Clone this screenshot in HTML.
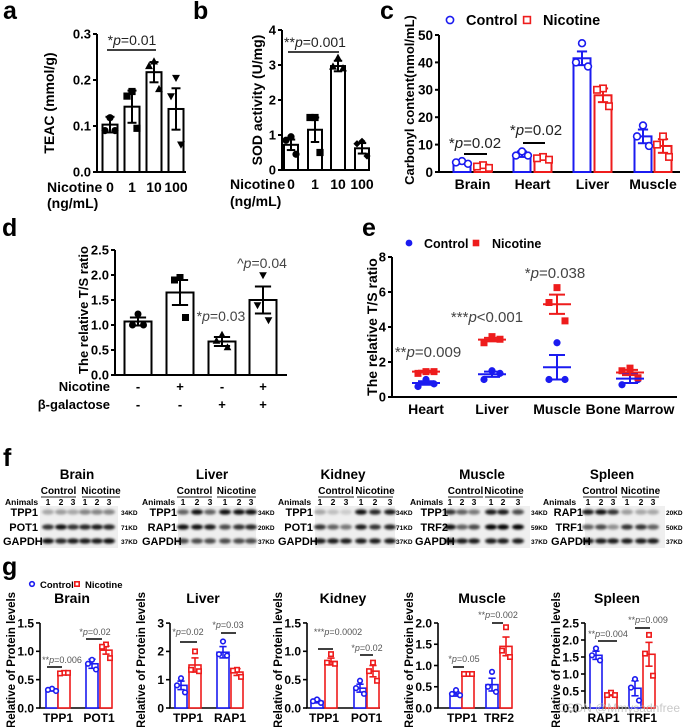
<!DOCTYPE html>
<html><head><meta charset="utf-8">
<style>
html,body{margin:0;padding:0;background:#fff;}
svg{display:block;font-family:"Liberation Sans",Arial,sans-serif;}
text{font-family:"Liberation Sans",Arial,sans-serif;}
</style></head>
<body>
<svg id="fig" width="685" height="727" viewBox="0 0 685 727">
<defs><filter id="blur" x="-50%" y="-100%" width="200%" height="300%"><feGaussianBlur stdDeviation="1.2"/></filter></defs>
</svg>
<script>
// ---------- data ----------
// panel a
const aCats=['0','1','10','100'];
const aMeans=[0.103,0.142,0.217,0.137];
const aSems=[0.017,0.035,0.022,0.045];
const aPts=[[0.118,0.09,0.09],[0.175,0.165,0.095],[0.24,0.23,0.18],[0.205,0.165,0.06]];
const aTicks=[0,0.1,0.2,0.3];
const aTickLabels=['0.0','0.1','0.2','0.3'];
// panel b
const bCats=['0','1','10','100'];
const bMeans=[0.72,1.15,2.97,0.62];
const bSems=[0.15,0.35,0.15,0.15];
const bPts=[[0.95,0.85,0.45],[1.5,1.5,0.5],[3.2,2.95,2.9],[0.82,0.75,0.4]];
const bTicks=[0,1,2,3,4];
const bTickLabels=['0','1','2','3','4'];
// panel c
const cCats=['Brain','Heart','Liver','Muscle'];
const cCtrlMeans=[3.5,6.5,41.5,13];
const cCtrlSems=[0.5,1,2.5,2.5];
const cNicMeans=[2.2,5,28,9.5];
const cNicSems=[0.5,0.5,2.5,2.5];
const cCtrlPts=[[4,3.5,3],[7.5,6,6],[47,40,38.5],[17,13,9.5]];
const cNicPts=[[2.5,2,1.5],[5.5,5,4.5],[30.5,30,24],[13,10,5.5]];
const cTicks=[0,10,20,30,40,50];
// panel d
const dNic=['-','+','-','+'];
const dGal=['-','-','+','+'];
const dMeans=[1.07,1.65,0.67,1.5];
const dSems=[0.08,0.25,0.09,0.27];
const dPts=[[1.22,1.0,1.0],[1.95,1.9,1.15],[0.8,0.68,0.55],[2.0,1.4,1.1]];
const dTicks=[0,0.5,1,1.5,2,2.5];
const dTickLabels=['0.0','0.5','1.0','1.5','2.0','2.5'];
// panel e
const eCats=['Heart','Liver','Muscle','Bone Marrow'];
const eCtrlMeans=[0.8,1.3,1.7,1.05];
const eCtrlSems=[0.1,0.15,0.7,0.25];
const eNicMeans=[1.45,3.28,5.3,1.4];
const eNicSems=[0.05,0.1,0.55,0.15];
const eCtrlPts=[[1.0,0.6,0.75],[1.5,1.0,1.35],[3.1,1.0,1.0],[1.5,0.7,1.0]];
const eNicPts=[[1.45,1.35,1.45],[3.45,3.1,3.3],[6.25,5.4,4.35],[1.65,1.5,1.1]];
const eTicks=[0,2,4,6,8];
// panel g
const gTissues=['Brain','Liver','Kidney','Muscle','Spleen'];
const gProteins=[['TPP1','POT1'],['TPP1','RAP1'],['TPP1','POT1'],['TPP1','TRF2'],['RAP1','TRF1']];
const gCtrlMeans=[[0.32,0.78],[0.8,1.97],[0.12,0.35],[0.33,0.55],[1.55,0.58]];
const gCtrlSems=[[0.02,0.08],[0.15,0.2],[0.03,0.07],[0.05,0.15],[0.12,0.22]];
const gNicMeans=[[0.62,1.02],[1.52,1.27],[0.82,0.65],[0.8,1.45],[0.4,1.58]];
const gNicSems=[[0.02,0.07],[0.25,0.12],[0.06,0.1],[0.02,0.22],[0.04,0.35]];
const gCtrlPts=[[[0.34,0.32,0.3],[0.85,0.78,0.68]],[[1.05,0.8,0.55],[2.35,1.9,1.85]],[[0.15,0.12,0.09],[0.48,0.35,0.25]],[[0.42,0.33,0.3],[0.85,0.5,0.38]],[[1.75,1.55,1.4],[0.85,0.6,0.22]]];
const gNicPts=[[[0.62,0.61,0.62],[1.12,1.08,0.88]],[[2.0,1.35,1.3],[1.35,1.32,1.1]],[[0.95,0.8,0.78],[0.8,0.65,0.48]],[[0.8,0.8,0.8],[1.9,1.35,1.2]],[[0.45,0.38,0.38],[2.15,1.6,0.95]]];
const gTicks=[[0,0.5,1,1.5],[0,1,2,3],[0,0.5,1,1.5],[0,0.5,1,1.5,2],[0,0.5,1,1.5,2,2.5]];
const gTickLabels=[['0.0','0.5','1.0','1.5'],['0','1','2','3'],['0.0','0.5','1.0','1.5'],['0.0','0.5','1.0','1.5','2.0'],['0.0','0.5','1.0','1.5','2.0','2.5']];
const gAnnot1=['**p=0.006','*p=0.02','***p=0.0002','*p=0.05','**p=0.004'];
const gAnnot2=['*p=0.02','*p=0.03','*p=0.02','**p=0.002','**p=0.009'];
// panel f blots
const fTissues=['Brain','Liver','Kidney','Muscle','Spleen'];
const fRows=[['TPP1','POT1','GAPDH'],['TPP1','RAP1','GAPDH'],['TPP1','POT1','GAPDH'],['TPP1','TRF2','GAPDH'],['RAP1','TRF1','GAPDH']];
const fKD=[['34KD','71KD','37KD'],['34KD','20KD','37KD'],['34KD','71KD','37KD'],['34KD','59KD','37KD'],['20KD','50KD','37KD']];
const fBands=[
 [[0.3,0.35,0.3,0.45,0.45,0.45],[0.8,0.95,0.8,0.85,0.9,0.85],[0.95,0.85,0.9,0.9,0.9,0.95]],
 [[0.6,0.95,0.6,0.95,0.95,0.95],[0.95,0.95,0.9,0.7,0.8,0.85],[0.7,0.7,0.7,0.7,0.7,0.7]],
 [[0.3,0.2,0.15,0.95,0.85,0.9],[0.8,0.6,0.5,0.9,0.8,0.85],[0.9,0.9,0.9,0.9,0.9,0.9]],
 [[0.8,0.6,0.5,0.9,0.9,0.7],[0.95,0.6,0.7,1,1,1],[0.9,0.9,0.9,0.9,0.9,0.9]],
 [[0.9,0.95,0.8,0.35,0.3,0.3],[0.6,0.7,0.4,0.8,0.8,0.6],[0.9,0.9,0.9,0.9,0.9,0.9]]
];

// ---------- helpers ----------
const NS='http://www.w3.org/2000/svg';
const svg=document.getElementById('fig');
const BLUE='#1b1bf0', RED='#ee1c1c';
function el(tag,attrs,name,parent){
  const e=document.createElementNS(NS,tag);
  for(const k in attrs) e.setAttribute(k,attrs[k]);
  
  
  (parent||svg).appendChild(e);
  return e;
}
function txt(x,y,s,fs,name,o){
  o=o||{};
  const t=el('text',{x:x,y:y,'font-size':fs,'font-weight':o.w||'bold','text-anchor':o.a||'start',fill:o.c||'#000'},name);
  if(o.rot) t.setAttribute('transform','rotate(-90 '+x+' '+y+')');
  t.textContent=s;
  return t;
}
function ann(x,y,s,fs,name,color,anchor){
  const t=el('text',{x:x,y:y,'font-size':fs,'text-anchor':anchor||'middle',fill:color||'#333'},name);
  const i=s.indexOf('p');
  const a=document.createElementNS(NS,'tspan'); a.textContent=s.slice(0,i); t.appendChild(a);
  const b=document.createElementNS(NS,'tspan'); b.setAttribute('font-style','italic'); b.textContent='p'; t.appendChild(b);
  const c=document.createElementNS(NS,'tspan'); c.textContent=s.slice(i+1); t.appendChild(c);
  return t;
}
function line(x1,y1,x2,y2,color,w,name){
  return el('line',{x1:x1,y1:y1,x2:x2,y2:y2,stroke:color,'stroke-width':w},name);
}
function axes(p){
  const Y=v=>p.y0-v*p.ppu;
  line(p.ax,p.y0,p.ax,Y(p.ticks[p.ticks.length-1]),'#000',p.lw||2,p.name+'-y-axis');
  line(p.ax-1,p.y0,p.xEnd,p.y0,'#000',p.lw||2,p.name+'-x-axis');
  p.ticks.forEach((t,i)=>{
    line(p.ax-4,Y(t),p.ax,Y(t),'#000',p.lw||2,p.name+'-y-tick');
    txt(p.ax-6,Y(t)+p.fs*0.36,p.labels?p.labels[i]:String(t),p.fs,p.name+'-y-tick-label',{a:'end'});
  });
  return Y;
}
function marker(type,x,y,r,color,filled,name){
  const f=filled?color:'#fff', sw=filled?0:1.6;
  if(type==='circle') return el('circle',{cx:x,cy:y,r:r,fill:f,stroke:color,'stroke-width':sw},name);
  if(type==='square') return el('rect',{x:x-r,y:y-r,width:2*r,height:2*r,fill:f,stroke:color,'stroke-width':sw},name);
  if(type==='tri') return el('polygon',{points:(x)+','+(y-r*1.2)+' '+(x-r*1.1)+','+(y+r*0.8)+' '+(x+r*1.1)+','+(y+r*0.8),fill:f},name);
  if(type==='itri') return el('polygon',{points:(x)+','+(y+r*1.2)+' '+(x-r*1.1)+','+(y-r*0.8)+' '+(x+r*1.1)+','+(y-r*0.8),fill:f},name);
  if(type==='diamond') return el('polygon',{points:x+','+(y-r)+' '+(x+r)+','+y+' '+x+','+(y+r)+' '+(x-r)+','+y,fill:f},name);
}
function bar(Y,cx,w,v,sem,color,lw,name){
  el('rect',{x:cx-w/2,y:Y(v),width:w,height:Y(0)-Y(v),fill:'#fff',stroke:color,'stroke-width':lw},name);
  line(cx,Y(v-sem),cx,Y(v+sem),color,lw,name+'-error');
  line(cx-w*0.3,Y(v+sem),cx+w*0.3,Y(v+sem),color,lw,name+'-error-cap');
  line(cx-w*0.3,Y(v-sem),cx+w*0.3,Y(v-sem),color,lw,name+'-error-cap');
}
const jit=[0,-5,5];

// ---------- panel labels ----------
txt(3,19,'a',25,'panel-label-a');
txt(193,19,'b',25,'panel-label-b');
txt(380,19,'c',25,'panel-label-c');
txt(2,236,'d',25,'panel-label-d');
txt(362,236,'e',25,'panel-label-e');
txt(3,466,'f',25,'panel-label-f');
txt(2,575,'g',25,'panel-label-g');

// ---------- panel a ----------
(function(){
  const Y=axes({name:'a',ax:97,y0:172,ppu:460,xEnd:186,ticks:aTicks,labels:aTickLabels,fs:13});
  const cx=[110,132,154,176], mk=['circle','square','tri','itri'];
  aMeans.forEach((v,i)=>{
    bar(Y,cx[i],15,v,aSems[i],'#000',2,'a-bar-'+aCats[i]);
    aPts[i].forEach((p,j)=>marker(mk[i],cx[i]+jit[j],Y(p),3.6,'#000',true,'a-point'));
    txt(cx[i],192,aCats[i],14,'a-x-label',{a:'middle'});
  });
  txt(47,192,'Nicotine',14,'a-x-title');
  txt(47,208,'(ng/mL)',14,'a-x-unit');
  txt(54,103,'TEAC (mmol/g)',14,'a-y-title',{a:'middle',rot:1});
  line(107,50,156,50,'#000',1.5,'a-sig-line');
  ann(132,45,'*p=0.01',14,'a-sig-label','#222');
})();

// ---------- panel b ----------
(function(){
  const Y=axes({name:'b',ax:282,y0:170,ppu:35,xEnd:370,ticks:bTicks,labels:bTickLabels,fs:13});
  const cx=[291,315,338,362], mk=['circle','square','tri','diamond'];
  bMeans.forEach((v,i)=>{
    bar(Y,cx[i],14,v,bSems[i],'#000',2,'b-bar-'+bCats[i]);
    bPts[i].forEach((p,j)=>marker(mk[i],cx[i]+jit[j],Y(p),3.6,'#000',true,'b-point'));
    txt(cx[i],189,bCats[i],14,'b-x-label',{a:'middle'});
  });
  txt(230,189,'Nicotine',14,'b-x-title');
  txt(230,206,'(ng/mL)',14,'b-x-unit');
  txt(262,100,'SOD activity (U/mg)',14,'b-y-title',{a:'middle',rot:1});
  line(288,52,339,52,'#000',1.5,'b-sig-line');
  ann(315,47,'**p=0.001',14,'b-sig-label','#222');
})();

// ---------- panel c ----------
(function(){
  const Y=axes({name:'c',ax:439,y0:172,ppu:2.74,xEnd:680,ticks:cTicks,fs:13.5});
  const cc=[462,522,582,643], nc=[483,543,603,663];
  cCats.forEach((c,i)=>{
    bar(Y,cc[i],17,cCtrlMeans[i],cCtrlSems[i],BLUE,2,'c-bar-control-'+c);
    bar(Y,nc[i],17,cNicMeans[i],cNicSems[i],RED,2,'c-bar-nicotine-'+c);
    cCtrlPts[i].forEach((p,j)=>marker('circle',cc[i]+jit[j]*1.2,Y(p),3.4,BLUE,false,'c-point-control'));
    cNicPts[i].forEach((p,j)=>marker('square',nc[i]+jit[j]*1.2,Y(p),3.2,RED,false,'c-point-nicotine'));
    txt((cc[i]+nc[i])/2,189,c,14,'c-x-label',{a:'middle'});
  });
  txt(414,100,'Carbonyl content(nmol/mL)',13,'c-y-title',{a:'middle',rot:1});
  marker('circle',450,20,3.6,BLUE,false,'c-legend-control-marker');
  txt(466,25,'Control',14.5,'c-legend-control-label');
  marker('square',527,20,3.4,RED,false,'c-legend-nicotine-marker');
  txt(543,25,'Nicotine',14.5,'c-legend-nicotine-label');
  line(464,154,487,154,'#000',2,'c-sig-line-brain');
  ann(475,148,'*p=0.02',15,'c-sig-label-brain','#222');
  line(523,143,545,143,'#000',2,'c-sig-line-heart');
  ann(536,135,'*p=0.02',15,'c-sig-label-heart','#222');
})();

// ---------- panel d ----------
(function(){
  const Y=axes({name:'d',ax:115,y0:375,ppu:50,xEnd:287,ticks:dTicks,labels:dTickLabels,fs:13});
  const cx=[138,180,222,263], mk=['circle','square','tri','itri'];
  dMeans.forEach((v,i)=>{
    bar(Y,cx[i],27,v,dSems[i],'#000',2,'d-bar-'+(i+1));
    dPts[i].forEach((p,j)=>marker(mk[i],cx[i]+jit[j]*1.1,Y(p),3.5,'#000',true,'d-point'));
    txt(cx[i],391,dNic[i],13,'d-nicotine-sign',{a:'middle'});
    txt(cx[i],409,dGal[i],13,'d-galactose-sign',{a:'middle'});
  });
  txt(110,391,'Nicotine',13,'d-nicotine-label',{a:'end'});
  txt(110,409,'β-galactose',13,'d-galactose-label',{a:'end'});
  txt(88,310,'The relative T/S ratio',13,'d-y-title',{a:'middle',rot:1});
  ann(221,321,'*p=0.03',14,'d-sig-label-3','#444');
  ann(262,268,'^p=0.04',14,'d-sig-label-4','#444');
})();

// ---------- panel e ----------
(function(){
  const Y=axes({name:'e',ax:392,y0:397,ppu:17.5,xEnd:677,ticks:eTicks,fs:13});
  const cx=[426,492,557,630];
  eCats.forEach((c,i)=>{
    eCtrlPts[i].forEach((p,j)=>marker('circle',cx[i]+jit[j]*1.6,Y(p),3.6,BLUE,true,'e-point-control'));
    eNicPts[i].forEach((p,j)=>marker('square',cx[i]+jit[j]*1.6,Y(p),3.5,RED,true,'e-point-nicotine'));
    [[eCtrlMeans[i],eCtrlSems[i],BLUE,'control'],[eNicMeans[i],eNicSems[i],RED,'nicotine']].forEach(s=>{
      line(cx[i]-14,Y(s[0]),cx[i]+14,Y(s[0]),s[2],2,'e-mean-'+s[3]);
      line(cx[i],Y(s[0]-s[1]),cx[i],Y(s[0]+s[1]),s[2],2,'e-sem-'+s[3]);
      line(cx[i]-8,Y(s[0]+s[1]),cx[i]+8,Y(s[0]+s[1]),s[2],2,'e-sem-cap-'+s[3]);
      line(cx[i]-8,Y(s[0]-s[1]),cx[i]+8,Y(s[0]-s[1]),s[2],2,'e-sem-cap-'+s[3]);
    });
    txt(cx[i],414,c,14,'e-x-label',{a:'middle'});
  });
  txt(377,327,'The relative T/S ratio',14,'e-y-title',{a:'middle',rot:1});
  marker('circle',409,243,3.4,BLUE,true,'e-legend-control-marker');
  txt(424,248,'Control',12.5,'e-legend-control-label');
  marker('square',476,243,3.3,RED,true,'e-legend-nicotine-marker');
  txt(492,248,'Nicotine',12.5,'e-legend-nicotine-label');
  ann(428,357,'**p=0.009',15,'e-sig-heart','#444');
  ann(487,322,'***p<0.001',15,'e-sig-liver','#444');
  ann(555,278,'*p=0.038',15,'e-sig-muscle','#444');
})();

// ---------- panel f ----------
(function(){
  const L=[
    {title:77,ctrl:[41,76],nic:[82,120],animals:5,lanes:[48,61,73,85,97,109],lab:38,lab3:3,bx:[40,118],kd:120},
    {title:212,ctrl:[177,212],nic:[217,256],animals:142,lanes:[183,197,210,225,239,251],lab:177,lab3:142,bx:[178,256],kd:257},
    {title:343,ctrl:[318,354],nic:[357,393],animals:278,lanes:[320,333,346,361,375,390],lab:313,lab3:278,bx:[315,395],kd:395},
    {title:482,ctrl:[448,483],nic:[485,523],animals:410,lanes:[450,462,474,491,503,518],lab:448,lab3:415,bx:[450,530],kd:530},
    {title:612,ctrl:[583,617],nic:[622,659],animals:543,lanes:[588,601,613,627,641,653],lab:583,lab3:551,bx:[585,665],kd:665}
  ];
  const rowY=[512,527,541];
  fTissues.forEach((t,i)=>{
    const p=L[i];
    txt(p.title,479,t,13.5,'f-title-'+t,{a:'middle'});
    txt((p.ctrl[0]+p.ctrl[1])/2,494,'Control',10,'f-control-label',{a:'middle'});
    line(p.ctrl[0],497,p.ctrl[1],497,'#222',1,'f-control-underline');
    txt((p.nic[0]+p.nic[1])/2,494,'Nicotine',10,'f-nicotine-label',{a:'middle'});
    line(p.nic[0],497,p.nic[1],497,'#222',1,'f-nicotine-underline');
    txt(p.animals,505,'Animals',8.5,'f-animals-label');
    ['1','2','3','1','2','3'].forEach((n,k)=>txt(p.lanes[k],505,n,8.5,'f-lane-number',{a:'middle'}));
    el('rect',{x:p.bx[0],y:506,width:p.bx[1]-p.bx[0],height:42,fill:'#efefef'},'f-blot-'+t);
    fRows[i].forEach((r,k)=>{
      txt(k==2?p.lab3:p.lab,rowY[k]+4,r,11,'f-row-label',{a:k==2?'start':'end'});
      txt(p.kd+1,rowY[k]+3,fKD[i][k],6.5,'f-kd-label');
      fBands[i][k].forEach((v,m)=>{
        el('ellipse',{cx:p.lanes[m],cy:rowY[k],rx:6,ry:2.6,fill:'#000','fill-opacity':v,filter:'url(#blur)'},'f-band');
      });
    });
  });
})();

// ---------- panel g ----------
(function(){
  marker('circle',32,584,2.3,BLUE,false,'g-legend-control-marker');
  txt(40,588,'Control',9.5,'g-legend-control-label');
  marker('square',77,584,2.2,RED,false,'g-legend-nicotine-marker');
  txt(85,588,'Nicotine',9.5,'g-legend-nicotine-label');
  const L=[
    {ax:40,ppu:56.7,end:112,c:[52,64,92,106],title:72,a1:[62,663,47,62,667],a2:[95,635,86,102,639]},
    {ax:170,ppu:28.3,end:243,c:[181,195,223,237],title:203,a1:[188,635,180,197,642],a2:[228,628,221,236,633]},
    {ax:307,ppu:56.7,end:380,c:[317,331,360,373],title:343,a1:[338,635,318,333,649],a2:[367,651,360,373,655]},
    {ax:438,ppu:42.5,end:512,c:[456,468,492,506],title:482,a1:[464,662,453,464,667],a2:[498,618,492,503,623]},
    {ax:585,ppu:34,end:655,c:[596,611,635,649],title:617,a1:[608,637,598,617,641],a2:[648,623,635,650,628]}
  ];
  gTissues.forEach((t,i)=>{
    const p=L[i];
    const Y=axes({name:'g-'+t,ax:p.ax,y0:708,ppu:p.ppu,xEnd:p.end,ticks:gTicks[i],labels:gTickLabels[i],fs:12,lw:1.6});
    txt(p.title,603,t,14,'g-title-'+t,{a:'middle'});
    txt(p.ax-25,660,'Relative of Protein levels',11.5,'g-y-title',{a:'middle',rot:1});
    for(let k=0;k<2;k++){
      const c1=p.c[k*2], c2=p.c[k*2+1];
      bar(Y,c1,12,gCtrlMeans[i][k],gCtrlSems[i][k],BLUE,1.6,'g-bar-control-'+gProteins[i][k]);
      bar(Y,c2,12,gNicMeans[i][k],gNicSems[i][k],RED,1.6,'g-bar-nicotine-'+gProteins[i][k]);
      gCtrlPts[i][k].forEach((v,j)=>marker('circle',c1+jit[j]*0.8,Y(v),2.3,BLUE,false,'g-point-control'));
      gNicPts[i][k].forEach((v,j)=>marker('square',c2+jit[j]*0.8,Y(v),2.2,RED,false,'g-point-nicotine'));
      txt((c1+c2)/2,722,gProteins[i][k],12,'g-x-label',{a:'middle'});
    }
    ann(p.a1[0],p.a1[1],gAnnot1[i],9,'g-sig-label','#555');
    line(p.a1[2],p.a1[4],p.a1[3],p.a1[4],'#000',1.5,'g-sig-line');
    ann(p.a2[0],p.a2[1],gAnnot2[i],9,'g-sig-label','#555');
    line(p.a2[2],p.a2[4],p.a2[3],p.a2[4],'#000',1.5,'g-sig-line');
  });
  const wm=txt(680,712,'CSDN @Mmysadnfree',12,'watermark',{a:'end',w:'normal',c:'#bbb'});
  wm.setAttribute('fill-opacity','0.8');
})();
</script>
</body></html>
